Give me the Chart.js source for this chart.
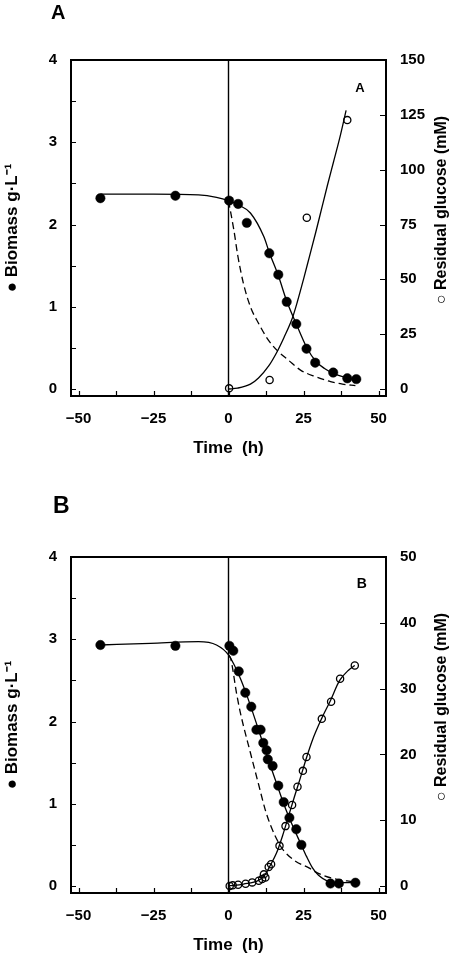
<!DOCTYPE html>
<html><head><meta charset="utf-8">
<script src="https://cdn.jsdelivr.net/npm/chart.js@4.4.1/dist/chart.umd.min.js"></script>
<style>
html,body{margin:0;padding:0;background:#fff;}
#wrap{position:relative;width:457px;height:954px;overflow:hidden;}
.box{position:absolute;left:0;width:457px;height:477px;}
canvas{display:block;}
</style></head><body>
<div id="wrap">
<div class="box" style="top:0"><canvas id="cA" width="457" height="477"></canvas></div>
<div class="box" style="top:477px"><canvas id="cB" width="457" height="477"></canvas></div>
</div>
<script>
// ---- tick values / labels ----
const timeTickValues = [-50, -37.5, -25, -12.5, 0, 12.5, 25, 37.5, 50];
const timeTickLabels = [-50, -25, 0, 25, 50];
const biomassTickValues = [0, 0.5, 1, 1.5, 2, 2.5, 3, 3.5, 4];
const biomassTickLabels = [0, 1, 2, 3, 4];
const glucoseTicksA = [0, 25, 50, 75, 100, 125, 150];
const glucoseTicksB = [0, 10, 20, 30, 40, 50];
const shiftTime = 0;

// ---- Panel A data ----
const biomassTimeA = [-42.7, -17.7, 0.2, 3.2, 6.1, 13.6, 16.6, 19.4, 22.6, 26.0, 28.9, 34.9, 39.6, 42.6];
const biomassA     = [2.32, 2.35, 2.29, 2.25, 2.02, 1.65, 1.39, 1.06, 0.79, 0.49, 0.32, 0.20, 0.13, 0.12];
const glucoseTimeA = [0.2, 13.7, 26.1, 39.6];
const glucoseA     = [0.3, 4.1, 78.1, 122.6];
const biomassFitTimeA = [-42.7, -25, -10, -4, 0, 3.2, 7.3, 11.8, 13.6, 16.6, 19.4, 22.6, 26, 29, 32, 35, 39, 42.5];
const biomassFitA     = [2.37, 2.37, 2.36, 2.33, 2.29, 2.24, 2.14, 1.85, 1.66, 1.38, 1.07, 0.79, 0.51, 0.34, 0.25, 0.19, 0.14, 0.11];
const dashFitTimeA = [0, 1.8, 3.1, 5, 7.3, 10, 13, 16.2, 20, 24, 29, 34, 38, 42.3];
const dashFitA     = [2.29, 1.93, 1.62, 1.28, 1.0, 0.80, 0.61, 0.47, 0.35, 0.23, 0.15, 0.09, 0.06, 0.04];
const glucoseFitTimeA = [0, 3, 7.3, 10, 13.4, 16.2, 18.5, 21.2, 23, 25, 27, 29, 31, 33, 35, 37, 39.2];
const glucoseFitA     = [0, 0.4, 2.2, 5, 10.5, 17, 23.5, 32, 40, 50, 60.5, 71, 82, 93, 103.5, 114, 127];

// ---- Panel B data ----
const biomassTimeB = [-42.7, -17.7, 0.3, 1.6, 3.4, 5.6, 7.6, 9.3, 10.7, 11.6, 12.7, 13.1, 14.7, 16.6, 18.4, 20.3, 22.6, 24.3, 34.0, 36.8, 42.3];
const biomassB     = [2.93, 2.92, 2.92, 2.86, 2.61, 2.35, 2.18, 1.90, 1.90, 1.74, 1.65, 1.54, 1.46, 1.22, 1.02, 0.83, 0.69, 0.50, 0.03, 0.03, 0.04];
const glucoseTimeB = [0.4, 1.4, 3.2, 5.7, 7.9, 10.1, 11.2, 12.3, 11.8, 13.4, 14.2, 17.0, 19.0, 21.2, 23.0, 24.8, 26.0, 31.1, 34.2, 37.2, 42.1];
const glucoseB     = [0, 0.1, 0.2, 0.35, 0.55, 0.8, 1.05, 1.3, 1.77, 2.9, 3.3, 6.1, 9.1, 12.3, 15.1, 17.5, 19.6, 25.4, 28.0, 31.5, 33.5];
const biomassFitTimeB = [-42.7, -26, -10, -4, 0, 2, 4, 6, 8, 10, 12, 14, 16, 18, 20, 22, 24, 26, 28, 30, 33, 36, 42.3];
const biomassFitB     = [2.93, 2.95, 2.97, 2.93, 2.81, 2.68, 2.52, 2.33, 2.12, 1.90, 1.68, 1.46, 1.25, 1.04, 0.85, 0.68, 0.52, 0.36, 0.22, 0.13, 0.06, 0.04, 0.04];
const dashFitTimeB = [0, 0.7, 2.7, 4, 7.3, 10, 12.3, 14, 16.8, 18.4, 22, 26.8, 29.6, 35, 41.8];
const dashFitB     = [2.81, 2.77, 2.34, 2.10, 1.62, 1.24, 0.92, 0.74, 0.52, 0.43, 0.31, 0.22, 0.16, 0.09, 0.05];
const glucoseFitTimeB = [0, 5, 10, 12, 14, 16, 18, 20, 22, 24, 26, 28, 31, 34, 37, 40, 42.1];
const glucoseFitB     = [0, 0.3, 0.85, 1.6, 3.2, 5.0, 7.6, 10.6, 13.6, 16.5, 19.5, 22.2, 25.4, 28.2, 31.2, 32.8, 33.5];

// ---- texts ----
const xTitle = 'Time  (h)';
const leftTitle = '\u25CF Biomass g\u00B7L\u207B\u00B9';
const rightTitle = '\u25CB Residual glucose (mM)';

const FONT = '"Liberation Sans", Arial, Helvetica, sans-serif';
const pts = (xs, ys) => xs.map((x, i) => ({x: x, y: ys[i]}));
const fmt = v => (v < 0 ? '\u2212' + Math.abs(v) : String(v));

const decor = {
  id: 'decor',
  beforeDatasetsDraw(chart, args, o) {
    const {ctx, chartArea: ca, scales} = chart;
    const px = scales.x.getPixelForValue(shiftTime);
    ctx.save();
    ctx.strokeStyle = '#000'; ctx.lineWidth = 1.4;
    ctx.beginPath(); ctx.moveTo(px, ca.top); ctx.lineTo(px, ca.bottom); ctx.stroke();
    ctx.restore();
  },
  afterDatasetsDraw(chart, args, o) {
    const {ctx, chartArea: ca, scales} = chart;
    ctx.save();
    ctx.strokeStyle = '#000';
    ctx.lineWidth = 1.2;
    ctx.beginPath();
    timeTickValues.forEach(v => { const p = Math.round(scales.x.getPixelForValue(v)) + 0.5; ctx.moveTo(p, ca.bottom); ctx.lineTo(p, ca.bottom - 5); });
    biomassTickValues.forEach(v => { const p = Math.round(scales.y.getPixelForValue(v)) + 0.5; ctx.moveTo(ca.left, p); ctx.lineTo(ca.left + 5, p); });
    o.rightTicks.forEach(v => { const p = Math.round(scales.y1.getPixelForValue(v)) + 0.5; ctx.moveTo(ca.right, p); ctx.lineTo(ca.right - 6, p); });
    ctx.stroke();
    ctx.lineWidth = 2;
    ctx.strokeRect(ca.left, ca.top, ca.right - ca.left, ca.bottom - ca.top);
    ctx.fillStyle = '#000';
    // panel letter
    ctx.font = 'bold ' + o.letterSize + 'px ' + FONT;
    ctx.textAlign = 'left'; ctx.textBaseline = 'alphabetic';
    ctx.fillText(o.letter, o.letterX, o.letterY);
    // inner letter
    ctx.font = 'bold ' + o.innerSize + 'px ' + FONT;
    ctx.textAlign = 'center';
    ctx.fillText(o.letter, o.innerX, o.innerY);
    // right title (reads bottom to top)
    ctx.font = 'bold 16px ' + FONT;
    ctx.translate(o.rtX, o.rtY);
    ctx.rotate(-Math.PI / 2);
    ctx.textAlign = 'center'; ctx.textBaseline = 'middle';
    ctx.fillText(rightTitle, 0, 0);
    ctx.restore();
  }
};

function makeChart(id, d) {
  const filled = {pointStyle: 'circle', pointRadius: 4.7, pointBackgroundColor: '#000', pointBorderColor: '#000', pointBorderWidth: 0.5, showLine: false};
  const open = {pointStyle: 'circle', pointRadius: 3.6, pointBackgroundColor: 'rgba(0,0,0,0)', pointBorderColor: '#000', pointBorderWidth: 1.3, showLine: false};
  const curve = {pointRadius: 0, borderColor: '#000', borderWidth: 1.3, showLine: true, fill: false, cubicInterpolationMode: 'monotone'};
  const noGrid = {display: false, drawTicks: false};
  return new Chart(document.getElementById(id), {
    type: 'scatter',
    data: {
      datasets: [
        Object.assign({label: 'Biomass', data: pts(d.bt, d.b), yAxisID: 'y'}, filled),
        Object.assign({label: 'Residual glucose', data: pts(d.gt, d.g), yAxisID: 'y1'}, open),
        Object.assign({label: 'Biomass fit', data: pts(d.bft, d.bf), yAxisID: 'y'}, curve),
        Object.assign({label: 'Biomass (dashed)', data: pts(d.dft, d.df), yAxisID: 'y', borderDash: [7, 4]}, curve),
        Object.assign({label: 'Glucose fit', data: pts(d.gft, d.gf), yAxisID: 'y1'}, curve)
      ]
    },
    options: {
      responsive: false, animation: false, devicePixelRatio: 1,
      layout: {padding: {top: d.padTop, left: 0, right: 0, bottom: 0}},
      plugins: {legend: {display: false}, tooltip: {enabled: false}, decor: d.decor},
      scales: {
        x: {
          type: 'linear', position: 'bottom', min: -52.5, max: 52.5,
          grid: noGrid, border: {display: false},
          afterBuildTicks: s => { s.ticks = timeTickValues.map(v => ({value: v})); },
          afterFit: s => { s.height = d.xHeight; },
          ticks: {autoSkip: false, maxRotation: 0, padding: 15, color: '#000',
            font: {family: FONT, size: 15, weight: 'bold', lineHeight: 1},
            callback: v => timeTickLabels.includes(v) ? fmt(v) : ''},
          title: {display: true, text: xTitle, color: '#000', padding: {top: 0, bottom: d.xTitlePad},
            font: {family: FONT, size: 17, weight: 'bold', lineHeight: 1}}
        },
        y: {
          type: 'linear', position: 'left', min: -0.085, max: 4,
          grid: noGrid, border: {display: false},
          afterBuildTicks: s => { s.ticks = biomassTickValues.map(v => ({value: v})); },
          afterFit: s => { s.width = 71; },
          ticks: {autoSkip: false, padding: 14, color: '#000',
            font: {family: FONT, size: 15, weight: 'bold', lineHeight: 1},
            callback: v => biomassTickLabels.includes(v) ? fmt(v) : ''},
          title: {display: true, text: leftTitle, color: '#000', padding: {top: 4, bottom: 0},
            font: {family: FONT, size: 17, weight: 'bold', lineHeight: 1}}
        },
        y1: {
          type: 'linear', position: 'right', min: d.rmin, max: d.rmax,
          grid: noGrid, border: {display: false},
          afterBuildTicks: s => { s.ticks = d.rticks.map(v => ({value: v})); },
          afterFit: s => { s.width = 71; },
          ticks: {autoSkip: false, padding: 14, color: '#000',
            font: {family: FONT, size: 15, weight: 'bold', lineHeight: 1},
            callback: v => fmt(v)}
        }
      }
    },
    plugins: [decor]
  });
}

makeChart('cA', {
  bt: biomassTimeA, b: biomassA, gt: glucoseTimeA, g: glucoseA,
  bft: biomassFitTimeA, bf: biomassFitA, dft: dashFitTimeA, df: dashFitA, gft: glucoseFitTimeA, gf: glucoseFitA,
  padTop: 60, xHeight: 81, xTitlePad: 20.5, rmin: -3.19, rmax: 150, rticks: glucoseTicksA,
  decor: {letter: 'A', letterSize: 20, letterX: 51, letterY: 19.3, innerSize: 13, innerX: 360, innerY: 92, rtX: 442, rtY: 210, rightTicks: glucoseTicksA}
});
makeChart('cB', {
  bt: biomassTimeB, b: biomassB, gt: glucoseTimeB, g: glucoseB,
  bft: biomassFitTimeB, bf: biomassFitB, dft: dashFitTimeB, df: dashFitB, gft: glucoseFitTimeB, gf: glucoseFitB,
  padTop: 80, xHeight: 61, xTitlePad: 0, rmin: -1.064, rmax: 50, rticks: glucoseTicksB,
  decor: {letter: 'B', letterSize: 23, letterX: 53, letterY: 35.7, innerSize: 14, innerX: 361.7, innerY: 111.3, rtX: 442, rtY: 230, rightTicks: glucoseTicksB}
});
</script>
</body></html>
